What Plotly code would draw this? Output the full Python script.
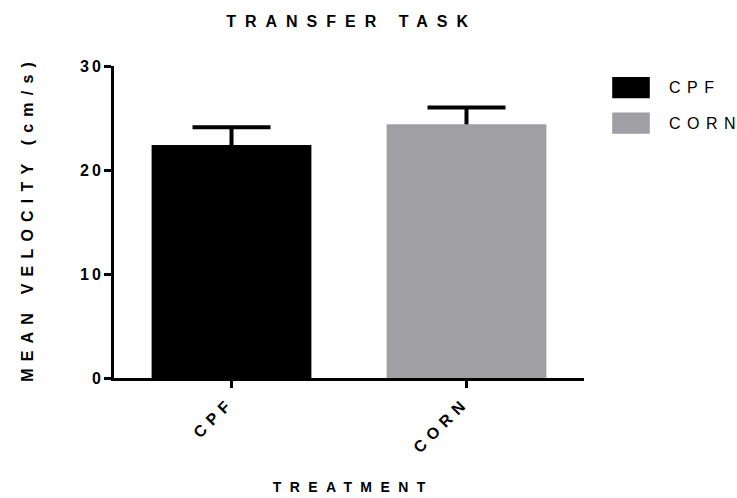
import plotly.graph_objects as go

# Transfer task: mean swim velocity by treatment (mean + SEM)
categories = ["CPF", "CORN"]
mean_velocity = [22.4, 24.4]
sem_velocity = [1.7, 1.6]
bar_colors = ["#000000", "#A09FA4"]
y_ticks = [0, 10, 20, 30]

FONT = "Liberation Sans, Arial, sans-serif"


def spaced(text, px):
    # tracked lettering; the last glyph gets no trailing gap
    return f'<span style="letter-spacing:{px}px">{text[:-1]}</span>{text[-1]}'


fig = go.Figure()

# SEM whiskers on a transparent bar trace placed first, so the filled
# bars drawn afterwards cover the lower half of each whisker
fig.add_trace(go.Bar(
    x=categories, y=mean_velocity, width=0.68,
    marker=dict(color="rgba(0,0,0,0)", line=dict(width=0)),
    error_y=dict(type="data", array=sem_velocity, color="black",
                 thickness=4, width=39),
    showlegend=False, hoverinfo="skip",
))

for cat, m, col in zip(categories, mean_velocity, bar_colors):
    fig.add_trace(go.Bar(
        x=[cat], y=[m], name=cat,
        marker=dict(color=col, line=dict(width=0)),
        width=0.68, showlegend=False,
    ))

# Legend drawn as swatches with labels at the right of the plot
legend_y = [0.931, 0.817]
for cat, col, ly in zip(categories, bar_colors, legend_y):
    fig.add_shape(type="rect", xref="paper", yref="paper",
                  x0=1.06, x1=1.14, y0=ly - 0.034, y1=ly + 0.034,
                  fillcolor=col, line=dict(width=0))
    fig.add_annotation(xref="paper", yref="paper", x=1.177, y=ly,
                       xanchor="left", yanchor="middle", showarrow=False,
                       text=spaced(cat, 6.5),
                       font=dict(family=FONT, size=16, color="black"))

fig.update_layout(
    width=737, height=498,
    margin=dict(l=114, r=153, t=66, b=120),
    plot_bgcolor="white", paper_bgcolor="white",
    barmode="overlay",
    title=dict(text="<b>" + spaced("TRANSFER TASK", 9) + "</b>",
               x=0.471, xanchor="center", y=0.957, yanchor="middle",
               font=dict(family=FONT, size=16, color="black")),
    xaxis=dict(
        range=[-0.5, 1.5], automargin=False,
        tickmode="array", tickvals=categories,
        ticktext=["<b>" + spaced(c, 6) + "</b>" for c in categories],
        tickangle=-45, ticklabelshift=-6, ticklabelstandoff=3,
        ticks="outside", ticklen=7, tickwidth=3, tickcolor="black",
        showline=True, linewidth=3, linecolor="black",
        showgrid=False, zeroline=False,
        tickfont=dict(family=FONT, size=16, color="black"),
        title=dict(text="<b>" + spaced("TREATMENT", 8.4) + "</b>",
                   font=dict(family=FONT, size=14, color="black"),
                   standoff=28),
    ),
    yaxis=dict(
        range=[0, 30], automargin=True,
        tickmode="array", tickvals=y_ticks,
        ticktext=["<b>" + spaced(str(v), 3) + "</b>" for v in y_ticks],
        ticks="outside", ticklen=7, tickwidth=3, tickcolor="black",
        showline=True, linewidth=3, linecolor="black",
        showgrid=False, zeroline=False,
        tickfont=dict(family=FONT, size=16, color="black"),
        title=dict(text="<b>" + spaced("MEAN VELOCITY (cm/s)", 7.2) + "</b>",
                   font=dict(family=FONT, size=16, color="black"),
                   standoff=43),
    ),
)

fig.write_html("out.html")
